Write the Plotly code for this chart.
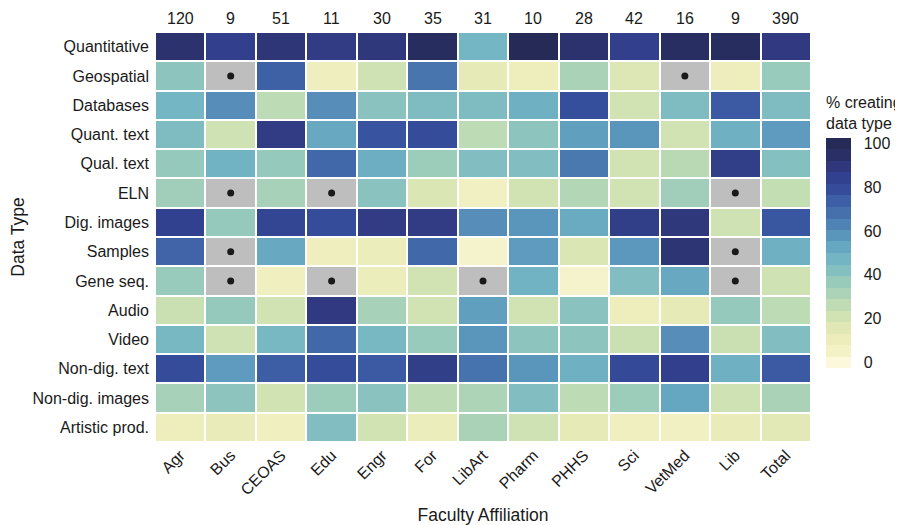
import plotly.graph_objects as go

faculties = ["Agr", "Bus", "CEOAS", "Edu", "Engr", "For", "LibArt", "Pharm",
             "PHHS", "Sci", "VetMed", "Lib", "Total"]
n_resp = [120, 9, 51, 11, 30, 35, 31, 10, 28, 42, 16, 9, 390]
data_types = ["Quantitative", "Geospatial", "Databases", "Quant. text", "Qual. text",
              "ELN", "Dig. images", "Samples", "Gene seq.", "Audio", "Video",
              "Non-dig. text", "Non-dig. images", "Artistic prod."]

quantitative = [93, 85, 90, 87, 89, 97, 47, 100, 93, 85, 96, 97, 88]
geospatial = [40, None, 73, 9, 22, 67, 14, 10, 32, 17, None, 10, 37]
databases = [47, 60, 27, 60, 41, 44, 44, 49, 78, 21, 44, 75, 44]
quant_text = [44, 22, 87, 52, 77, 79, 27, 40, 55, 58, 21, 49, 56]
qual_text = [38, 48, 38, 71, 50, 36, 43, 43, 66, 21, 28, 86, 42]
eln = [35, None, 33, None, 41, 18, 7, 21, 30, 21, 35, None, 25]
dig_images = [84, 38, 82, 79, 87, 87, 60, 58, 51, 86, 89, 22, 76]
samples = [72, None, 52, 9, 11, 71, 4, 56, 18, 57, 91, None, 49]
gene_seq = [37, None, 8, None, 11, 21, None, 48, 4, 43, 52, None, 22]
audio = [23, 38, 21, 88, 33, 21, 55, 21, 41, 10, 14, 38, 27]
video = [46, 22, 46, 71, 46, 37, 58, 40, 40, 23, 60, 23, 43]
nondig_text = [79, 56, 74, 79, 75, 86, 68, 58, 49, 80, 85, 49, 75]
nondig_images = [33, 40, 21, 36, 41, 27, 31, 43, 27, 36, 53, 22, 32]
artistic = [10, 12, 8, 43, 21, 11, 32, 22, 14, 8, 7, 12, 15]

rows = [quantitative, geospatial, databases, quant_text, qual_text, eln, dig_images,
        samples, gene_seq, audio, video, nondig_text, nondig_images, artistic]

# palette sampled at 20 evenly spaced values from 0 to 100
palette = ["#fbf8dc", "#f3f2c6", "#ecedbb", "#e1e8b5", "#d1e3b3", "#bfdcb4",
           "#acd3b7", "#99cbbb", "#85c0c0", "#73b5c3", "#66a7c1", "#5a95bc",
           "#5083b5", "#4570ac", "#3d5fa5", "#354c9b", "#32418f", "#30377a",
           "#2a2f66", "#252a57"]
nb = len(palette)
# continuous scale for the cells
cont_scale = [[i / (nb - 1), c] for i, c in enumerate(palette)]
# stepped scale for the legend bar (20 bins, limits at bin centres)
step_scale = []
for i, c in enumerate(palette):
    step_scale.append([i / nb, c])
    step_scale.append([(i + 1) / nb, c])
half_bin = 50 / (nb - 1)

font_family = "Liberation Sans, Arial, sans-serif"
txt = "#1a1a1a"

fig = go.Figure()
fig.add_trace(go.Heatmap(
    z=rows, x=faculties, y=data_types, zmin=0, zmax=100,
    colorscale=cont_scale, xgap=2, ygap=2, hoverongaps=False, showscale=False,
))

# missing cells
na_z = [[1 if v is None else None for v in r] for r in rows]
fig.add_trace(go.Heatmap(
    z=na_z, x=faculties, y=data_types, zmin=0, zmax=1,
    colorscale=[[0, "#bebebe"], [1, "#bebebe"]], showscale=False,
    xgap=2, ygap=2, hoverongaps=False,
))
na_x, na_y = [], []
for dt, r in zip(data_types, rows):
    for f, v in zip(faculties, r):
        if v is None:
            na_x.append(f)
            na_y.append(dt)
fig.add_trace(go.Scatter(x=na_x, y=na_y, mode="markers",
                         marker=dict(size=7, color="#1a1a1a"),
                         showlegend=False, hoverinfo="skip"))

# legend bar
fig.add_trace(go.Scatter(
    x=[faculties[0]], y=[data_types[0]], mode="markers", hoverinfo="skip",
    showlegend=False,
    marker=dict(size=0, opacity=0, color=[0], colorscale=step_scale,
                cmin=-half_bin, cmax=100 + half_bin, showscale=True,
                colorbar=dict(
                    thickness=25, lenmode="pixels", len=230,
                    y=0.1805, yanchor="bottom", x=1.0227, xanchor="left",
                    outlinewidth=0, xpad=0, ypad=0,
                    ticks="outside", ticklen=10, tickcolor="rgba(0,0,0,0)",
                    tickvals=[0, 20, 40, 60, 80, 100],
                    tickfont=dict(size=16, color=txt, family=font_family),
                )),
))
fig.add_annotation(x=1.0197, y=0.8537, xref="paper", yref="paper",
                   xanchor="left", yanchor="top", align="left",
                   text="% creating<br>data type", showarrow=False,
                   font=dict(size=16, color=txt, family=font_family))

for f, n in zip(faculties, n_resp):
    fig.add_annotation(x=f, y=1.0, xref="x", yref="paper", yanchor="bottom",
                       text=str(n), showarrow=False, yshift=3,
                       font=dict(size=16, color=txt, family=font_family))

fig.update_layout(
    width=895, height=517,
    margin=dict(l=147, r=88, t=24, b=83),
    paper_bgcolor="white", plot_bgcolor="white",
    font=dict(family=font_family, size=16, color=txt),
    xaxis=dict(tickangle=-45, showgrid=False, zeroline=False, ticks="",
               automargin=False, range=[-0.5, len(faculties) - 0.5],
               tickfont=dict(size=16, color=txt),
               title=dict(text="Faculty Affiliation", standoff=12,
                          font=dict(size=17.5, color=txt))),
    yaxis=dict(showgrid=False, zeroline=False, ticks="",
               automargin=False, ticklabelstandoff=5,
               range=[len(data_types) - 0.5, -0.5],
               tickfont=dict(size=16, color=txt),
               title=dict(text="Data Type", standoff=7,
                          font=dict(size=17.5, color=txt))),
    showlegend=False,
)

fig.write_html("out.html")
